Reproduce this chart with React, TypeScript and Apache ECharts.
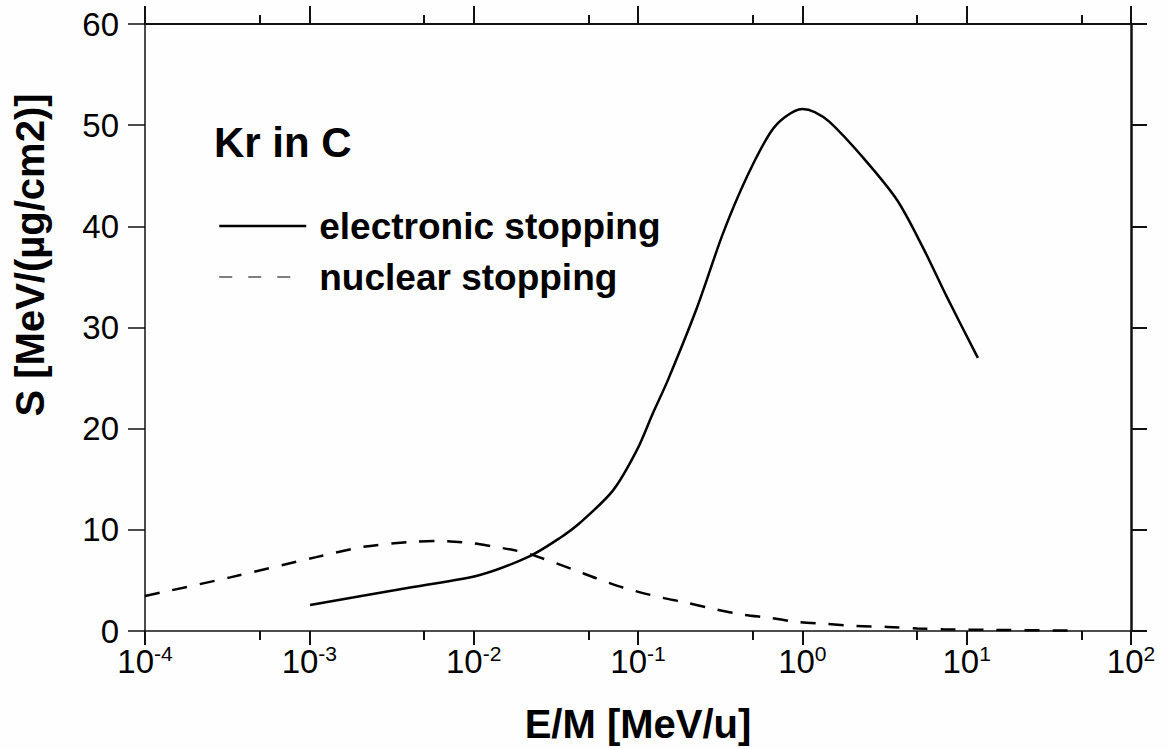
import React, { useEffect, useRef } from "react";
import * as echarts from "echarts";

// Electronic stopping of Kr ions in carbon: E/M [MeV/u] vs S [MeV/(µg/cm2)]
const electronicEnergy = [
  0.00101, 0.00428, 0.0109, 0.022, 0.0335, 0.0444, 0.0705, 0.0986, 0.123, 0.152,
  0.229, 0.329, 0.46, 0.635, 0.785, 1.0, 1.19, 1.47, 2.34, 3.77, 5.42, 7.59, 11.7,
];
const electronicStopping = [
  2.57, 4.35, 5.53, 7.41, 9.2, 10.7, 13.9, 17.9, 21.5, 24.8,
  32.0, 39.3, 44.9, 49.2, 50.8, 51.6, 51.3, 50.3, 46.8, 42.6, 37.9, 33.0, 27.0,
];

// Nuclear stopping of Kr ions in carbon
const nuclearEnergy = [
  1e-4, 3.3e-4, 1.1e-3, 2.1e-3, 4.1e-3, 6e-3, 9.5e-3, 0.0131, 0.0175, 0.022, 0.04, 0.056,
  0.081, 0.131, 0.197, 0.286, 0.44, 0.635, 0.92, 1.4, 2.1, 3.3, 5.0, 7.2, 15, 45,
];
const nuclearStopping = [
  3.46, 5.3, 7.3, 8.3, 8.8, 8.9, 8.7, 8.35, 8.0, 7.6, 6.1, 5.2,
  4.3, 3.4, 2.8, 2.2, 1.6, 1.3, 0.9, 0.7, 0.5, 0.4, 0.25, 0.18, 0.1, 0.05,
];

// Axis ranges and minor tick positions (5 x 10^n, in decades)
const xMin = 1e-4;
const xMax = 1e2;
const yMin = 0;
const yMax = 60;
const yStep = 10;
const minorDecades = [-4, -3, -2, -1, 0, 1].map((d) => d + Math.log10(5));

const FONT = "'Liberation Sans', Arial, Helvetica, sans-serif";
const INK = "#000";
const AXIS = "#111";

export default function App() {
  const ref = useRef<HTMLDivElement>(null);

  useEffect(() => {
    if (!ref.current) return;
    const chart = echarts.init(ref.current, undefined, { renderer: "svg" });

    const decadeLabel = (v: number) => {
      const e = Math.round(Math.log10(v));
      return `{b|10}{s|${e}}`;
    };

    const minorAxis = (position: "top" | "bottom") => ({
      type: "value",
      position,
      min: -4,
      max: 2,
      interval: 1,
      axisLine: { show: false, onZero: false },
      axisLabel: { show: false },
      splitLine: { show: false },
      axisTick: {
        show: true,
        customValues: minorDecades,
        length: 9,
        lineStyle: { color: AXIS, width: 2 },
      },
    });

    chart.setOption({
      animation: false,
      backgroundColor: "#fdfefd",
      textStyle: { fontFamily: FONT },
      grid: {
        left: 145,
        right: 37,
        top: 24,
        bottom: 118,
        containLabel: false,
        outerBoundsMode: "none",
      },
      title: {
        text: "Kr in C",
        left: 214,
        top: 121,
        padding: 0,
        textStyle: { fontSize: 42, fontWeight: "bold", color: INK, fontFamily: FONT },
      },
      legend: {
        orient: "vertical",
        left: 218,
        top: 206,
        padding: 0,
        itemWidth: 87,
        itemHeight: 2,
        itemGap: 11,
        selectedMode: false,
        itemStyle: { opacity: 0 },
        textStyle: {
          fontSize: 37,
          fontWeight: "bold",
          color: INK,
          fontFamily: FONT,
          lineHeight: 40,
          padding: [0, 0, 0, 8],
        },
        data: [
          { name: "electronic stopping", lineStyle: { width: 2.5, type: "solid", color: INK } },
          { name: "nuclear stopping", lineStyle: { width: 1.2, type: [13, 16], color: INK } },
        ],
      },
      xAxis: [
        {
          type: "log",
          logBase: 10,
          position: "bottom",
          min: xMin,
          max: xMax,
          name: "E/M [MeV/u]",
          nameLocation: "middle",
          nameGap: 73,
          nameTextStyle: { fontSize: 40, fontWeight: "bold", color: INK, fontFamily: FONT },
          axisLine: { show: true, onZero: false, lineStyle: { color: AXIS, width: 1.5 } },
          axisTick: { show: true, length: 14, lineStyle: { color: AXIS, width: 2 } },
          splitLine: { show: false },
          minorTick: { show: false },
          axisLabel: {
            margin: 12,
            formatter: decadeLabel,
            rich: {
              b: { fontSize: 33, lineHeight: 36, color: INK, fontFamily: FONT },
              s: { fontSize: 21, lineHeight: 22, verticalAlign: "top", color: INK, fontFamily: FONT },
            },
          },
        },
        {
          type: "log",
          logBase: 10,
          position: "top",
          min: xMin,
          max: xMax,
          axisLine: { show: true, onZero: false, lineStyle: { color: AXIS, width: 2 } },
          axisTick: { show: true, length: 18, lineStyle: { color: AXIS, width: 2 } },
          axisLabel: { show: false },
          splitLine: { show: false },
        },
        minorAxis("bottom"),
        minorAxis("top"),
      ],
      yAxis: [
        {
          type: "value",
          position: "left",
          min: yMin,
          max: yMax,
          interval: yStep,
          name: "S [MeV/(\u00b5g/cm2)]",
          nameLocation: "middle",
          nameGap: 95,
          nameRotate: 90,
          nameTextStyle: {
            fontSize: 40,
            fontWeight: "bold",
            color: INK,
            fontFamily: FONT,
            padding: [0, 0, 0, 145],
          },
          axisLine: { show: true, onZero: false, lineStyle: { color: AXIS, width: 1.5 } },
          axisTick: { show: true, length: 17, lineStyle: { color: AXIS, width: 1.5 } },
          splitLine: { show: false },
          axisLabel: { margin: 26, fontSize: 33, color: INK, fontFamily: FONT },
        },
        {
          type: "value",
          position: "right",
          min: yMin,
          max: yMax,
          interval: yStep,
          axisLine: { show: true, onZero: false, lineStyle: { color: AXIS, width: 2.5 } },
          axisTick: { show: true, length: 16, lineStyle: { color: AXIS, width: 2 } },
          axisLabel: { show: false },
          splitLine: { show: false },
        },
      ],
      series: [
        {
          type: "line",
          name: "electronic stopping",
          xAxisIndex: 0,
          yAxisIndex: 0,
          data: electronicEnergy.map((e, i) => [e, electronicStopping[i]]),
          symbol: "none",
          showSymbol: false,
          smooth: 0.3,
          itemStyle: { color: INK },
          lineStyle: { color: INK, width: 2.5 },
          z: 3,
        },
        {
          type: "line",
          name: "nuclear stopping",
          xAxisIndex: 0,
          yAxisIndex: 0,
          data: nuclearEnergy.map((e, i) => [e, nuclearStopping[i]]),
          symbol: "none",
          showSymbol: false,
          smooth: 0.3,
          itemStyle: { color: INK },
          lineStyle: { color: INK, width: 2.5, type: [15, 13] },
          z: 3,
        },
      ],
    });

    return () => chart.dispose();
  }, []);

  return (
    <div
      ref={ref}
      style={{ position: "absolute", left: 0, top: 0, width: 1168, height: 749 }}
    />
  );
}
